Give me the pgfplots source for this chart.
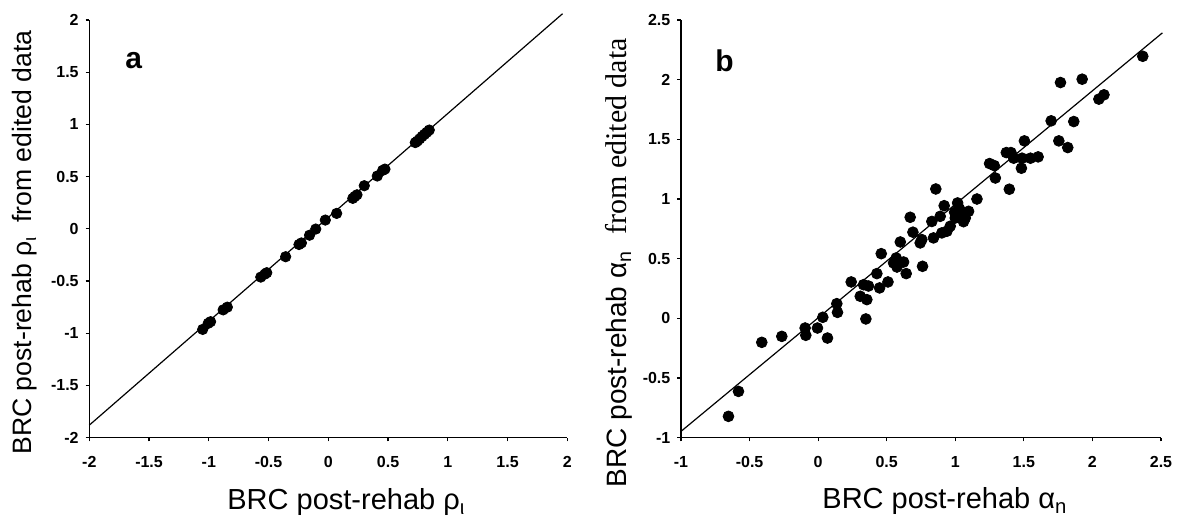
\documentclass[border=0pt]{standalone}
\usepackage{fontspec}
\setmainfont{Liberation Sans}
\newfontfamily\seriffont{Liberation Serif}
\usepackage{pgfplots}
\pgfplotsset{compat=1.18}

\pgfplotsset{
  panel/.style={
    scale only axis, height=208.85pt,
    axis x line*=bottom, axis y line*=left,
    axis line style={line width=0.75pt, -},
    tick align=outside, major tick length=1.8pt,
    tick style={line width=0.6pt, black},
    ticklabel style={font=\fontsize{8}{9}\selectfont\bfseries},
    /pgf/number format/assume math mode=true,
    xticklabel style={yshift=-4pt},
    clip=false,
    anchor=south west,
  },
  dots/.style={only marks, mark=*, mark size=2.7pt, black},
}

\begin{document}
\begin{tikzpicture}
\useasboundingbox (-44.65pt,-39.65pt) rectangle (545.85pt,218.85pt);

% Panel a
\begin{axis}[panel, width=239pt, at={(0pt,0pt)},
  xmin=-2, xmax=2, ymin=-2, ymax=2,
  xtick={-2,-1.5,...,2}, ytick={-2,-1.5,...,2}]
\addplot[no marks, line width=0.6pt, black] coordinates {(-2,-1.88) (1.96,2.06)};
\addplot[dots, mark size=2.6pt] coordinates {
(-1.051,-0.963) (-1.005,-0.905) (-0.985,-0.889) (-0.880,-0.776) (-0.845,-0.750)
(-0.565,-0.462) (-0.530,-0.433) (-0.515,-0.420) (-0.357,-0.267) (-0.245,-0.150)
(-0.225,-0.135) (-0.157,-0.061) (-0.105,-0.002) (-0.025,0.084) (0.070,0.148)
(0.205,0.292) (0.222,0.310) (0.240,0.326) (0.301,0.413) (0.410,0.506)
(0.455,0.560) (0.474,0.572) (0.728,0.826) (0.745,0.840) (0.765,0.862)
(0.785,0.885) (0.805,0.905) (0.825,0.925) (0.845,0.946)
};
\node[anchor=base west, inner sep=0pt, font=\fontsize{15}{15}\selectfont\bfseries]
  at ([xshift=17.85pt, yshift=-24pt]rel axis cs:0,1) {a};
\node[rotate=90, anchor=base west, inner sep=0pt, font=\fontsize{13.3}{14}\selectfont]
  at ([xshift=-28.8pt, yshift=-8.65pt]rel axis cs:0,0)
  {BRC post-rehab ρ\textsubscript{ι}\hspace{0.5em}from edited data};
\node[anchor=base west, inner sep=0pt, font=\fontsize{14.5}{15}\selectfont]
  at ([xshift=68.85pt, yshift=-36pt]rel axis cs:0,0)
  {BRC post-rehab ρ\textsubscript{ι}};
\end{axis}

% Panel b
\begin{axis}[panel, width=240pt, at={(295.85pt,0pt)},
  xmin=-1, xmax=2.5, ymin=-1, ymax=2.5,
  xtick={-1,-0.5,...,2.5}, ytick={-1,-0.5,...,2.5}]
\addplot[no marks, line width=0.6pt, black] coordinates {(-1,-0.947) (2.51,2.392)};
\addplot[dots] coordinates {
(-0.654,-0.821) (-0.581,-0.612) (-0.411,-0.201) (-0.265,-0.151) (-0.095,-0.081)
(-0.090,-0.142) (-0.005,-0.081) (0.034,0.009) (0.068,-0.165) (0.136,0.123)
(0.141,0.050) (0.241,0.305) (0.307,0.185) (0.331,0.282) (0.348,-0.005)
(0.355,0.157) (0.367,0.271) (0.428,0.375) (0.448,0.255) (0.460,0.542)
(0.509,0.305) (0.550,0.464) (0.569,0.506) (0.599,0.640) (0.623,0.472)
(0.642,0.375) (0.671,0.847) (0.691,0.722) (0.744,0.632) (0.761,0.436)
(0.756,0.660) (0.829,0.812) (0.858,1.084) (0.841,0.674) (0.890,0.855)
(0.902,0.716) (0.919,0.944) (0.939,0.730) (0.963,0.772) (0.995,0.889)
(1.017,0.967) (1.031,0.917) (1.000,0.841) (1.041,0.869) (1.073,0.841)
(1.097,0.897) (1.158,1.000) (1.250,1.297) (1.284,1.280) (1.292,1.176)
(1.372,1.389) (1.406,1.389) (1.394,1.082) (1.426,1.342) (1.487,1.342)
(1.482,1.258) (1.504,1.487) (1.548,1.342) (1.604,1.353) (1.699,1.655)
(1.755,1.487) (1.767,1.976) (1.820,1.431) (1.864,1.649) (1.925,2.004)
(2.047,1.837) (2.084,1.873) (2.367,2.196) (0.575,0.430) (1.060,0.810)
};
\node[anchor=base west, inner sep=0pt, font=\fontsize{15}{15}\selectfont\bfseries]
  at ([xshift=17pt, yshift=-26pt]rel axis cs:0,1) {b};
\node[rotate=90, anchor=base west, inner sep=0pt, font=\fontsize{14}{14}\selectfont]
  at ([xshift=-27.15pt, yshift=-25pt]rel axis cs:0,0)
  {BRC post-rehab α\textsubscript{n}\hspace{8pt}{\seriffont\fontsize{15}{15}\selectfont from edited data}};
\node[anchor=base west, inner sep=0pt, font=\fontsize{14.5}{15}\selectfont]
  at ([xshift=70.5pt, yshift=-35.5pt]rel axis cs:0,0)
  {BRC post-rehab α\textsubscript{n}};
\end{axis}
\end{tikzpicture}
\end{document}
